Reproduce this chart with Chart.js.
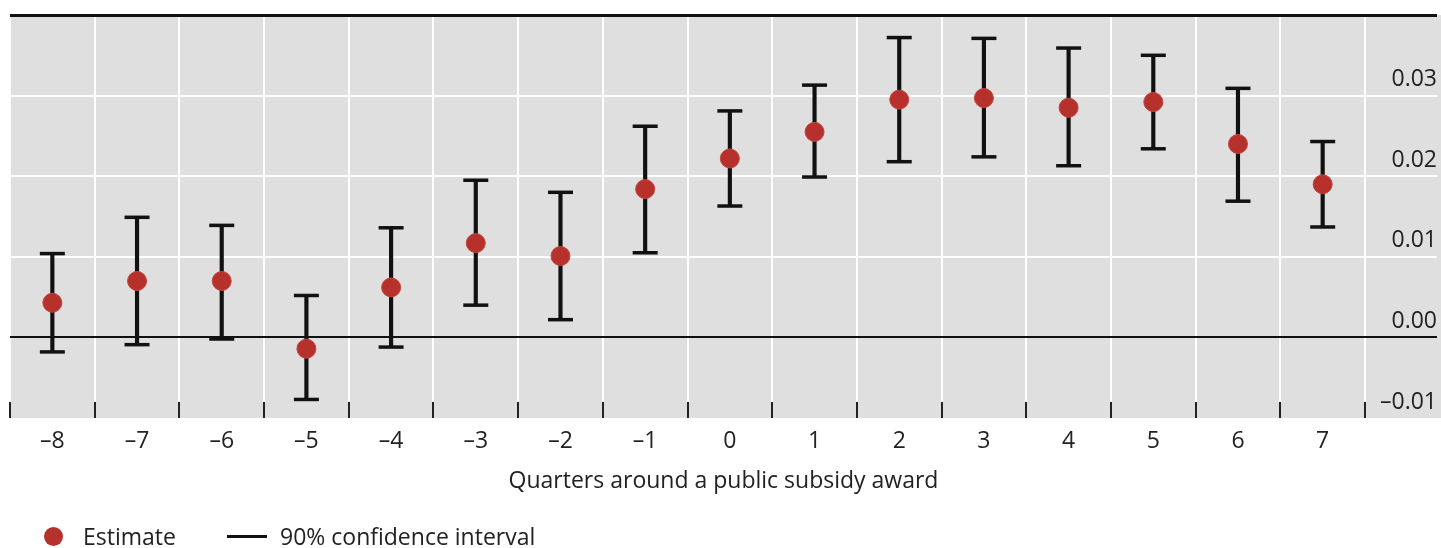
<!DOCTYPE html>
<html>
<head>
<meta charset="utf-8">
<script src="https://cdn.jsdelivr.net/npm/chart.js@4/dist/chart.umd.min.js"></script>
<style>
  html, body { margin: 0; padding: 0; background: #fff; }
  #wrap { position: relative; width: 1441px; height: 548px; overflow: hidden; font-family: "Open Sans", sans-serif; color: #222; }
  #c { position: absolute; left: 0; top: 0; }
  .leg { position: absolute; font-size: 23px; line-height: 28px; white-space: nowrap; }
  .dot { position: absolute; width: 19px; height: 19px; border-radius: 50%; background: #b7312c; }
  .ln { position: absolute; height: 3px; background: #111; }
</style>
</head>
<body>
<div id="wrap">
  <canvas id="c" width="1441" height="548"></canvas>
  <div class="dot" style="left:44px; top:527px;"></div>
  <div class="leg" style="left:83px; top:522px;">Estimate</div>
  <div class="ln" style="left:227px; top:535px; width:40px;"></div>
  <div class="leg" style="left:280px; top:522px;">90% confidence interval</div>
</div>
<script>
// ---- data ----
const quarters = [-8, -7, -6, -5, -4, -3, -2, -1, 0, 1, 2, 3, 4, 5, 6, 7];
const estimate = [0.0043, 0.0070, 0.0070, -0.0014, 0.0062, 0.0117, 0.0101, 0.0184, 0.0222, 0.0255, 0.0295, 0.0297, 0.0285, 0.0292, 0.0240, 0.0190];
const ciLow    = [-0.0018, -0.0009, -0.0002, -0.0077, -0.0012, 0.0040, 0.0022, 0.0105, 0.0163, 0.0199, 0.0218, 0.0224, 0.0213, 0.0234, 0.0169, 0.0137];
const ciHigh   = [0.0104, 0.0149, 0.0139, 0.0052, 0.0136, 0.0195, 0.0180, 0.0262, 0.0281, 0.0313, 0.0372, 0.0371, 0.0359, 0.0350, 0.0309, 0.0243];
const yTicks   = [-0.01, 0.00, 0.01, 0.02, 0.03, 0.04];
const yLabelled = [-0.01, 0.00, 0.01, 0.02, 0.03];
const xTitle = 'Quarters around a public subsidy award';

const RED = '#b7312c';
const FONT = '"Open Sans", sans-serif';
const FS = 23;
const fmtNeg = (v, d) => (v < 0 ? '\u2013' : '') + Math.abs(v).toFixed(d);

const boundaries = quarters.map(q => q - 0.5).concat([quarters[quarters.length - 1] + 0.5]);
const isBoundary = v => Math.abs(v - Math.round(v)) > 0.25;
const tv = c => (c && c.tick) ? c.tick.value : NaN;
const r2 = v => Math.round(v * 100) / 100;

const bgPlugin = {
  id: 'bg',
  beforeDraw(chart) {
    const {ctx, chartArea: a} = chart;
    ctx.save();
    ctx.fillStyle = '#dfdfdf';
    ctx.fillRect(a.left, a.top, chart.width - a.left, a.bottom - a.top);
    ctx.restore();
  }
};

new Chart(document.getElementById('c'), {
  type: 'bar',
  data: {
    datasets: [
      {
        type: 'scatter',
        label: 'Estimate',
        data: quarters.map((q, i) => ({x: q, y: estimate[i]})),
        pointRadius: 9.5,
        pointBackgroundColor: RED,
        pointBorderColor: '#c4443e',
        pointBorderWidth: 1,
        order: 0
      },
      {
        type: 'scatter',
        label: 'caps',
        data: quarters.map((q, i) => ({x: q, y: ciLow[i]})).concat(quarters.map((q, i) => ({x: q, y: ciHigh[i]}))),
        pointStyle: 'line',
        pointRadius: 12.5,
        pointBorderColor: '#111',
        pointBorderWidth: 3.5,
        order: 1
      },
      {
        type: 'bar',
        label: '90% confidence interval',
        data: quarters.map((q, i) => ({x: q, y: [ciLow[i], ciHigh[i]]})),
        backgroundColor: '#111',
        borderWidth: 0,
        barThickness: 3.5,
        grouped: false,
        order: 2
      }
    ]
  },
  options: {
    responsive: false,
    animation: false,
    events: [],
    layout: { autoPadding: false, padding: { left: 10, right: 0, top: 15, bottom: 50 } },
    plugins: { legend: { display: false }, tooltip: { enabled: false } },
    scales: {
      x: {
        type: 'linear',
        offset: false,
        min: -8.5,
        max: 8.35,
        afterBuildTicks(scale) {
          scale.ticks = boundaries.concat(quarters).sort((a, b) => a - b).map(v => ({value: v}));
        },
        afterFit(scale) { scale.height = 80; scale.paddingLeft = 0; scale.paddingRight = 0; },
        grid: {
          offset: false,
          color: c => isBoundary(tv(c)) ? '#ffffff' : 'rgba(0,0,0,0)',
          lineWidth: 2,
          drawTicks: true,
          tickLength: -16,
          tickColor: c => isBoundary(tv(c)) ? '#222' : 'rgba(0,0,0,0)',
          tickWidth: 2
        },
        border: { display: false },
        ticks: {
          autoSkip: false,
          maxRotation: 0,
          padding: 26,
          color: '#222',
          font: { family: FONT, size: FS },
          callback: v => isBoundary(v) ? '' : fmtNeg(v, 0)
        },
        title: {
          display: true,
          text: xTitle,
          color: '#222',
          font: { family: FONT, size: FS },
          padding: { top: 0, bottom: 3 }
        }
      },
      y: {
        type: 'linear',
        position: 'right',
        min: yTicks[0],
        max: yTicks[yTicks.length - 1],
        afterBuildTicks(scale) { scale.ticks = yTicks.map(v => ({value: v})); },
        afterFit(scale) { scale.width = 4; scale.paddingTop = 0; scale.paddingBottom = 0; },
        grid: {
          drawTicks: false,
          color: c => {
            const v = r2(tv(c));
            if (v === 0 || v === 0.04) return '#111';
            if (v === -0.01) return 'rgba(0,0,0,0)';
            return '#ffffff';
          },
          lineWidth: c => (r2(tv(c)) === 0.04 ? 3 : 2)
        },
        border: { display: false },
        ticks: {
          mirror: true,
          padding: 0,
          labelOffset: -16,
          color: '#222',
          font: { family: FONT, size: FS },
          callback: v => {
            const r = r2(v);
            return yLabelled.includes(r) ? fmtNeg(r, 2) : '';
          }
        }
      }
    }
  },
  plugins: [bgPlugin]
});
</script>
</body>
</html>
